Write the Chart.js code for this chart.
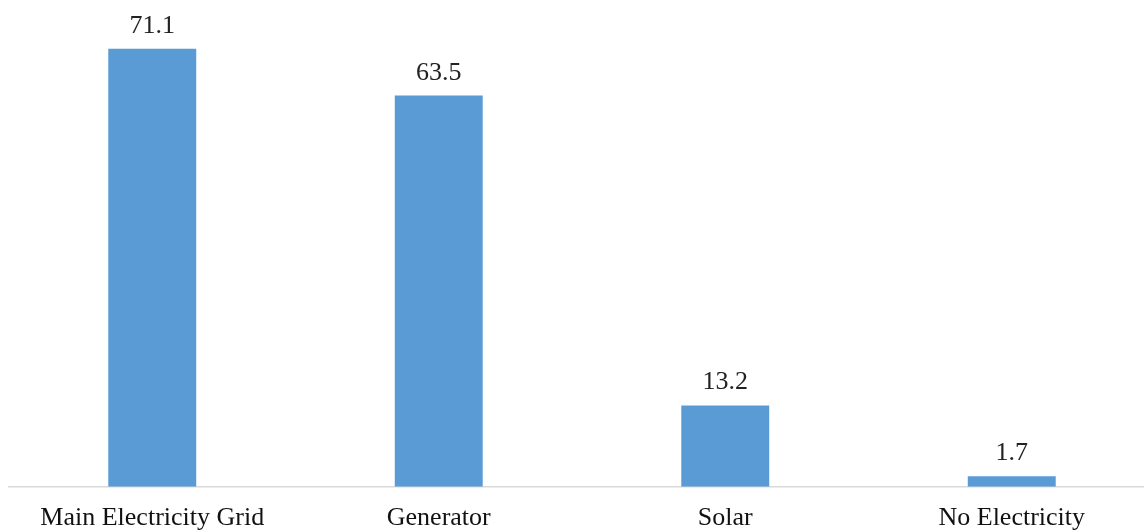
<!DOCTYPE html>
<html>
<head>
<meta charset="utf-8">
<script src="https://cdn.jsdelivr.net/npm/chart.js@4/dist/chart.umd.min.js"></script>
<style>
  html, body { margin: 0; padding: 0; background: #fff; overflow: hidden; }
  #wrap { width: 1144px; height: 532px; overflow: hidden; }
</style>
</head>
<body>
<div id="wrap"><canvas id="myChart" width="1160" height="532"></canvas></div>
<script>
var categories = ["Main Electricity Grid", "Generator", "Solar", "No Electricity"];
var shares = [71.1, 63.5, 13.2, 1.7];
var valueLabels = ["71.1", "63.5", "13.2", "1.7"];

var serif = "'Liberation Serif', 'Times New Roman', serif";

// writes the value over each bar
var barValues = {
    id: 'barValues',
    afterDatasetsDraw: function (chart) {
        var ctx = chart.ctx;
        var meta = chart.getDatasetMeta(0);
        ctx.save();
        ctx.font = "26px " + serif;
        ctx.fillStyle = "#222";
        ctx.textAlign = "center";
        ctx.textBaseline = "alphabetic";
        meta.data.forEach(function (bar, i) {
            ctx.fillText(valueLabels[i], bar.x, bar.y - 16);
        });
        ctx.restore();
    }
};

var ctx = document.getElementById('myChart').getContext('2d');
var chart = new Chart(ctx, {
    type: 'bar',
    data: {
        labels: categories,
        datasets: [{
            data: shares,
            backgroundColor: '#5B9BD5',
            borderWidth: 0,
            barPercentage: 0.307,
            categoryPercentage: 1
        }]
    },
    options: {
        responsive: false,
        animation: false,
        layout: { padding: { left: 9, right: 5, top: 0, bottom: -18 } },
        plugins: {
            legend: { display: false },
            tooltip: { enabled: false }
        },
        scales: {
            x: {
                grid: { display: false, drawTicks: false },
                border: { display: true, color: '#d9d9d9', width: 1.5 },
                ticks: {
                    color: '#111',
                    padding: 16,
                    maxRotation: 0,
                    autoSkip: false,
                    font: { family: serif, size: 26 }
                }
            },
            y: {
                display: false,
                min: 0,
                max: 79
            }
        }
    },
    plugins: [barValues]
});
</script>
</body>
</html>
